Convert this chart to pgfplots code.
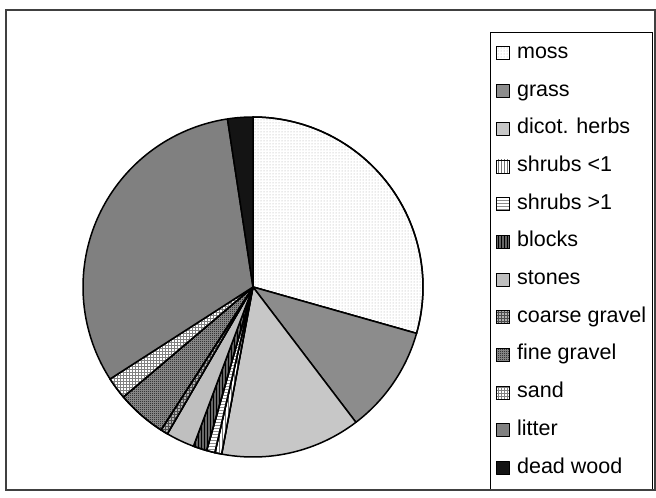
\documentclass[border=0pt]{standalone}
\usepackage{pgfplots}
\pgfplotsset{compat=1.18}
\usepackage{pgfplotstable}
\usepackage{fontspec}
\setmainfont{Liberation Sans}
\usetikzlibrary{patterns}
\pgfdeclarepatternformonly{finechecker}{\pgfpointorigin}{\pgfpoint{2pt}{2pt}}{\pgfpoint{2pt}{2pt}}{%
 \pgfpathrectangle{\pgfpointorigin}{\pgfpoint{1pt}{1pt}}%
 \pgfpathrectangle{\pgfpoint{1pt}{1pt}}{\pgfpoint{1pt}{1pt}}%
 \pgfusepath{fill}}

\tikzset{
 slicebase/.style={draw=black, line width=1.5pt, line join=round},
 slice0/.style={slicebase, fill=white, postaction={pattern=dots, pattern color=black!35}},
 slice1/.style={slicebase, fill=black!45},
 slice2/.style={slicebase, fill=black!22},
 slice3/.style={slicebase, fill=white, postaction={pattern=vertical lines, pattern color=black!55}},
 slice4/.style={slicebase, fill=white, postaction={pattern=horizontal lines, pattern color=black!45}},
 slice5/.style={slicebase, fill=black!60, postaction={pattern=vertical lines, pattern color=black}},
 slice6/.style={slicebase, fill=black!25},
 slice7/.style={slicebase, fill=black!30, postaction={pattern=grid, pattern color=black!70}},
 slice8/.style={slicebase, fill=black!40, postaction={pattern=finechecker, pattern color=black}},
 slice9/.style={slicebase, fill=white, postaction={pattern=grid, pattern color=black!50}},
 slice10/.style={slicebase, fill=black!50},
 slice11/.style={slicebase, fill=black!92},
}

% shares of the ground cover (percent), clockwise from 12 o'clock
\pgfplotstableread{
value
29.4
10.25
13.3
0.65
0.8
1.3
2.7
0.7
4.7
2.1
31.7
2.4
}\piedata
\pgfplotstablecreatecol[create col/expr accum={\pgfmathaccuma + \thisrow{value}}{0}]{cum}{\piedata}

\begin{document}
\begin{tikzpicture}[x=1pt,y=1pt]
\begin{axis}[
  at={(83pt,41pt)}, anchor=south west,
  scale only axis, width=340pt, height=340pt,
  xmin=-1, xmax=1, ymin=-1, ymax=1,
  hide axis, clip=false,
  legend entries={moss,grass,dicot. herbs,shrubs <1,shrubs >1,blocks,stones,coarse gravel,fine gravel,sand,litter,dead wood},
  legend cell align=left,
  legend image code/.code={\draw[#1,draw=black,line width=0.8pt] (0pt,-6.5pt) rectangle (13pt,6.5pt);},
  legend style={at={(1.1971,1.25)}, anchor=north west, draw=black, line width=0.6pt,
    inner xsep=6pt, inner ysep=12pt, font=\fontsize{21.5}{25}\selectfont,
    row sep=19.7pt, column sep=7pt,
    nodes={inner sep=0pt, text height=14pt, text depth=4pt}},
]
\pgfplotsinvokeforeach{0,...,11}{
  \pgfplotstablegetelem{#1}{cum}\of\piedata
  \let\sliceend\pgfplotsretval
  \pgfplotstablegetelem{#1}{value}\of\piedata
  \pgfmathsetmacro\angA{(\sliceend-\pgfplotsretval)*3.6}
  \pgfmathsetmacro\angB{\sliceend*3.6}
  \edef\doplot{\noexpand\addplot[slice#1, domain=\angA:\angB, samples=80] ({sin(x)},{cos(x)}) -- (axis cs:0,0) -- cycle;}
  \doplot
}
\end{axis}
\draw[black!75, line width=1.5pt] (6pt,8pt) rectangle (655pt,488pt);
\pgfresetboundingbox
\useasboundingbox (0,0) rectangle (656pt,498pt);
\end{tikzpicture}
\end{document}
